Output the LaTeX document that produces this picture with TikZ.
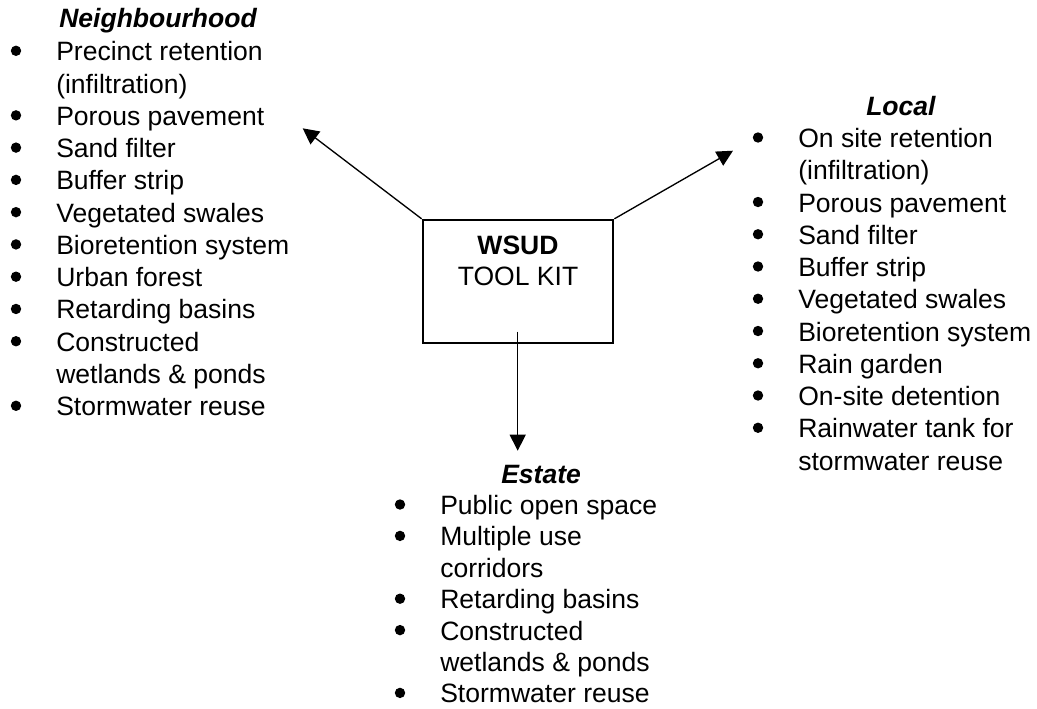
\documentclass[tikz,border=0pt]{standalone}
\usepackage{fontspec}
\setmainfont{Liberation Sans}
\usetikzlibrary{arrows.meta}
\begin{document}
\begin{tikzpicture}[x=0.75pt,y=-0.75pt,
  txt/.style={anchor=base west,inner sep=0pt,font=\fontsize{19.9pt}{24pt}\selectfont},
  ttl/.style={anchor=base west,inner sep=0pt,font=\fontsize{19.9pt}{24pt}\selectfont\bfseries\itshape},
  ctr/.style={anchor=base,inner sep=0pt,font=\fontsize{19.9pt}{24pt}\selectfont},
  arr/.style={-{Triangle[length=12pt,width=12pt]},line width=1pt},
  boxstyle/.style={draw,line width=1.5pt,minimum width=143pt,minimum height=92.5pt,inner sep=0pt}]
\useasboundingbox (0,0) rectangle (1037,708);

% centre box
\node[boxstyle] (box) at (518,281.5) {};
\node[ctr,font=\fontsize{19.9pt}{24pt}\selectfont\bfseries] (wsud) at (518,254) {WSUD};
\node[ctr] (toolkit) at (518,285) {TOOL KIT};

% Neighbourhood
\node[ttl] (nbtitle) at (59,27.5) {Neighbourhood};
\foreach \k/\t/\b in {0/Precinct retention/1, 1/(infiltration)/0, 2/Porous pavement/1,
  3/Sand filter/1, 4/Buffer strip/1, 5/Vegetated swales/1, 6/Bioretention system/1,
  7/Urban forest/1, 8/Retarding basins/1, 9/Constructed/1, 10/{wetlands \& ponds}/0,
  11/Stormwater reuse/1}{
  \node[txt] (nb\k) at (56,{60.8+32.27*\k}) {\t};
  \ifnum\b=1 \fill (16,{50.8+32.27*\k}) circle[radius=3.9pt]; \fi
}

% Local
\node[ttl] (lctitle) at (866,115) {Local};
\foreach \k/\t/\b in {0/On site retention/1, 1/(infiltration)/0, 2/Porous pavement/1,
  3/Sand filter/1, 4/Buffer strip/1, 5/Vegetated swales/1, 6/Bioretention system/1,
  7/Rain garden/1, 8/On-site detention/1, 9/Rainwater tank for/1, 10/stormwater reuse/0}{
  \node[txt] (lc\k) at (798,{147.5+32.25*\k}) {\t};
  \ifnum\b=1 \fill (758,{137.5+32.25*\k}) circle[radius=3.9pt]; \fi
}

% Estate
\node[ttl] (estitle) at (501,483) {Estate};
\foreach \k/\t/\b in {0/Public open space/1, 1/Multiple use/1, 2/corridors/0,
  3/Retarding basins/1, 4/Constructed/1, 5/{wetlands \& ponds}/0, 6/Stormwater reuse/1}{
  \node[txt] (es\k) at (440,{514.5+31.4*\k}) {\t};
  \ifnum\b=1 \fill (400,{504.5+31.4*\k}) circle[radius=3.9pt]; \fi
}

% arrows
\coordinate (nbtip) at (302.7,128.3);
\coordinate (lctip) at (733,150.7);
\coordinate (dstart) at (517.7,331.7);
\coordinate (dtip) at (517.7,450.7);
\draw[arr] (box.north west) -- (nbtip);
\draw[arr] (box.north east) -- (lctip);
\draw[arr] (dstart) -- (dtip);
\end{tikzpicture}
\end{document}
